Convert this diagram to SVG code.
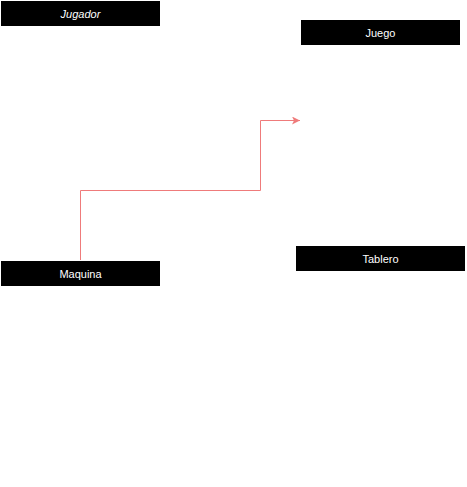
<svg xmlns="http://www.w3.org/2000/svg" width="467" height="487" viewBox="0 0 467 487">
  <style>
    .box { fill: #000000; }
    .label { fill: #ffffff; font-family: "Liberation Sans", Arial, sans-serif; font-size: 11px; text-anchor: middle; dominant-baseline: central; }
    .italic { font-style: italic; }
    .link { fill: none; stroke: #ef7b7b; stroke-width: 1; }
  </style>
  <defs>
    <marker id="arrow" markerWidth="8" markerHeight="8" refX="8" refY="4" orient="auto" markerUnits="userSpaceOnUse">
      <path d="M0,0 L8,4 L0,8 L2,4 Z" fill="#ef7b7b"/>
    </marker>
  </defs>
  <rect width="467" height="487" fill="#ffffff"/>

  <g id="connectors">
    <path class="link" d="M80.5,260 V190.5 H260.5 V120.5 H300" marker-end="url(#arrow)"/>
  </g>

  <g id="jugador">
    <rect class="box" x="1" y="1" width="159" height="25"/>
    <text class="label italic" x="80.5" y="14">Jugador</text>
  </g>

  <g id="juego">
    <rect class="box" x="301" y="20" width="159" height="25"/>
    <text class="label" x="380.5" y="33">Juego</text>
  </g>

  <g id="maquina">
    <rect class="box" x="1" y="261" width="159" height="25"/>
    <text class="label" x="80.5" y="274">Maquina</text>
  </g>

  <g id="tablero">
    <rect class="box" x="296" y="246" width="169" height="25"/>
    <text class="label" x="380.5" y="259">Tablero</text>
  </g>
</svg>
